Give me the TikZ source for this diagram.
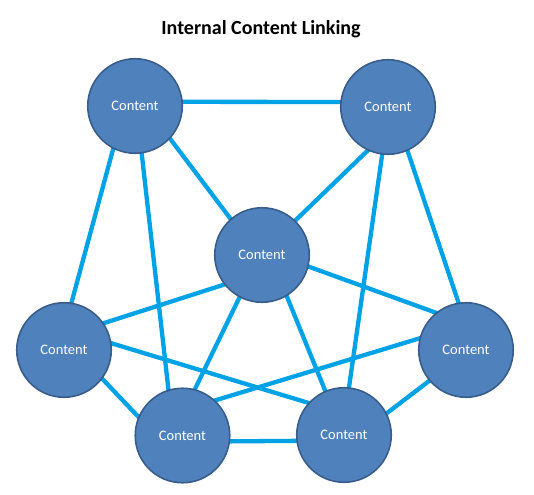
\documentclass[tikz,border=0pt]{standalone}
\usepackage{fontspec}
\setmainfont{Carlito}
\usetikzlibrary{backgrounds}
\definecolor{nodefill}{HTML}{4F81BD}
\definecolor{nodeborder}{HTML}{385D8A}
\definecolor{linkblue}{HTML}{00A2E6}
\tikzset{
  contentnode/.style={circle, draw=nodeborder, fill=nodefill, line width=1.6pt,
    inner sep=0pt, minimum size=94.5pt, text=white, font=\fontsize{14.5}{16}\selectfont},
  linkline/.style={draw=linkblue, line width=4.3pt, shorten <=-4pt, shorten >=-4pt},
}
\begin{document}
\begin{tikzpicture}[x=1pt,y=-1pt]
\useasboundingbox (0,0) rectangle (534,494);
\node[anchor=base, font=\fontsize{20}{24}\bfseries] (title) at (261,34.3) {Internal Content Linking};
\node[contentnode] (A) at (135,106) {Content};
\node[contentnode] (B) at (388,107) {Content};
\node[contentnode] (C) at (262,255) {Content};
\node[contentnode] (D) at (64,350) {Content};
\node[contentnode] (E) at (466,350) {Content};
\node[contentnode] (F) at (182.5,435.5) {Content};
\node[contentnode] (G) at (344,435) {Content};
\begin{scope}[on background layer]
\draw[linkline] (A.5) -- (B.174);
\draw[linkline] (A.243) -- (D.81.5);
\draw[linkline] (A.278) -- (F.107);
\draw[linkline] (A.317) -- (C.131);
\draw[linkline] (B.245) -- (C.46);
\draw[linkline] (B.263) -- (G.84);
\draw[linkline] (B.294) -- (E.99.7);
\draw[linkline] (C.218) -- (D.34.3);
\draw[linkline] (C.346) -- (E.129.8);
\draw[linkline] (C.242) -- (F.75.8);
\draw[linkline] (C.301) -- (G.113.8);
\draw[linkline] (D.8.3) -- (G.138.4);
\draw[linkline] (D.323) -- (F.157.6);
\draw[linkline] (E.166.6) -- (F.47.7);
\draw[linkline] (E.220.5) -- (G.27.1);
\draw[linkline] (F.353.4) -- (G.187.3);
\end{scope}
\end{tikzpicture}
\end{document}
